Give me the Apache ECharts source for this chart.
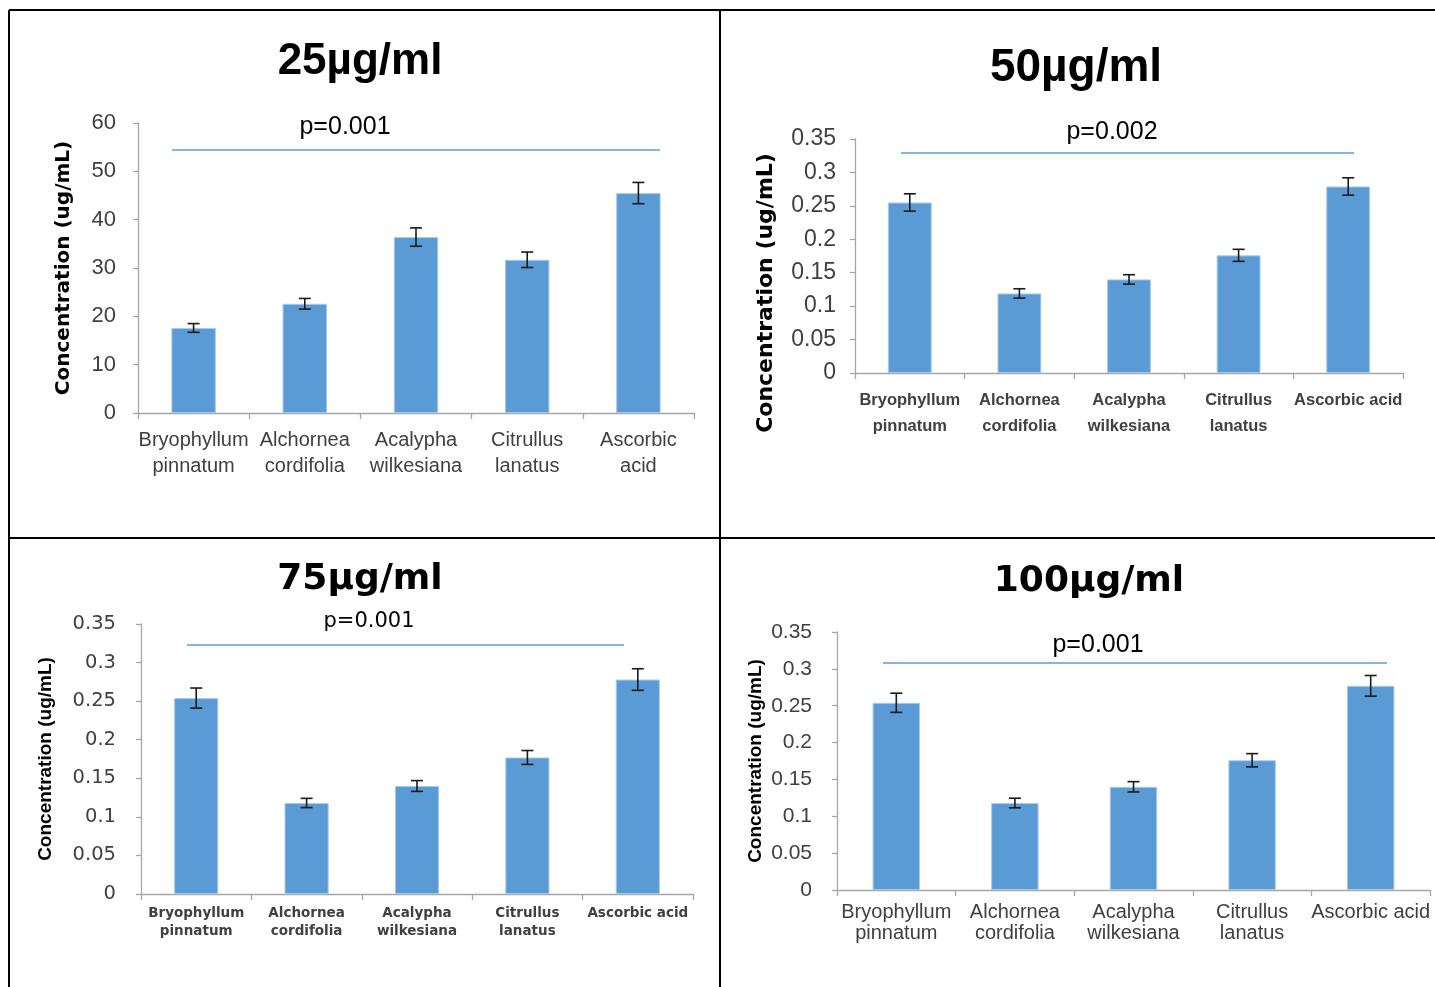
<!DOCTYPE html>
<html>
<head>
<meta charset="utf-8">
<script src="https://cdn.jsdelivr.net/npm/echarts@6/dist/echarts.min.js"></script>
<style>
html,body{margin:0;padding:0;background:#fff;}
#c{width:1435px;height:987px;}
</style>
</head>
<body>
<div id="c"></div>
<script>
// ---- data ----
const categories = ["Bryophyllum pinnatum", "Alchornea cordifolia", "Acalypha wilkesiana", "Citrullus lanatus", "Ascorbic acid"];
const labels25 = ["Bryophyllum\npinnatum", "Alchornea\ncordifolia", "Acalypha\nwilkesiana", "Citrullus\nlanatus", "Ascorbic\nacid"];
const labelsOther = ["Bryophyllum\npinnatum", "Alchornea\ncordifolia", "Acalypha\nwilkesiana", "Citrullus\nlanatus", "Ascorbic acid"];

const panelTitles = ["25µg/ml", "50µg/ml", "75µg/ml", "100µg/ml"];
const pValues = ["p=0.001", "p=0.002", "p=0.001", "p=0.001"];
const yAxisTitle = "Concentration (ug/mL)";

const values25 = [17.6, 22.6, 36.4, 31.7, 45.5];
const errors25 = [0.9, 1.1, 1.9, 1.6, 2.2];
const values50 = [0.255, 0.119, 0.140, 0.176, 0.279];
const errors50 = [0.013, 0.007, 0.007, 0.009, 0.013];
const values75 = [0.254, 0.118, 0.140, 0.177, 0.278];
const errors75 = [0.013, 0.006, 0.007, 0.009, 0.014];
const values100 = [0.254, 0.118, 0.140, 0.176, 0.277];
const errors100 = [0.013, 0.0065, 0.007, 0.009, 0.014];

const yMax25 = 60, yStep25 = 10;
const yMaxSmall = 0.35, yStepSmall = 0.05;

// ---- styling / layout ----
const BAR = '#5B9BD5';
const AXIS = '#A6A6A6';
const TXT = '#404040';

const panels = [
  { grid:{left:138, top:123, width:556, height:290}, labels:labels25, vals:values25, errs:errors25, max:yMax25, step:yStep25,
    tickFont:{fontFamily:'Liberation Sans', fontSize:22}, yMargin:22,
    catFont:{fontFamily:'Liberation Sans', fontSize:20, lineHeight:26}, xMargin:14 },
  { grid:{left:855, top:139, width:548, height:234}, labels:labelsOther, vals:values50, errs:errors50, max:yMaxSmall, step:yStepSmall,
    tickFont:{fontFamily:'Liberation Sans', fontSize:23}, yMargin:19,
    catFont:{fontFamily:'Liberation Sans', fontWeight:'bold', fontSize:16.5, lineHeight:26}, xMargin:14 },
  { grid:{left:141, top:624, width:552, height:270}, labels:labelsOther, vals:values75, errs:errors75, max:yMaxSmall, step:yStepSmall,
    tickFont:{fontFamily:'DejaVu Sans', fontSize:19.5}, yMargin:25,
    catFont:{fontFamily:'DejaVu Sans', fontWeight:'bold', fontSize:13.5, lineHeight:18}, xMargin:10 },
  { grid:{left:837, top:632, width:593, height:258}, labels:labelsOther, vals:values100, errs:errors100, max:yMaxSmall, step:yStepSmall,
    tickFont:{fontFamily:'Liberation Sans', fontSize:21}, yMargin:25,
    catFont:{fontFamily:'Liberation Sans', fontSize:20, lineHeight:21}, xMargin:12 }
];

const grids = [], xAxes = [], yAxes = [], series = [];
panels.forEach((p, k) => {
  grids.push(Object.assign({containLabel:false}, p.grid));
  xAxes.push({
    type:'category', gridIndex:k, data:p.labels,
    axisLine:{lineStyle:{color:AXIS, width:1.3}},
    axisTick:{show:true, length:6, lineStyle:{color:AXIS, width:1.3}},
    axisLabel:Object.assign({color:TXT, margin:p.xMargin, interval:0}, p.catFont),
    splitLine:{show:false}
  });
  yAxes.push({
    type:'value', gridIndex:k, min:0, max:p.max, interval:p.step,
    axisLine:{show:true, lineStyle:{color:AXIS, width:1.3}},
    axisTick:{show:true, length:5, lineStyle:{color:AXIS, width:1.3}},
    axisLabel:Object.assign({color:TXT, margin:p.yMargin}, p.tickFont),
    splitLine:{show:false}
  });
  series.push({
    type:'bar', xAxisIndex:k, yAxisIndex:k, data:p.vals, barWidth:'40%',
    itemStyle:{color:BAR, borderColor:'#A9CBEA', borderWidth:1},
    silent:true, animation:false
  });
  series.push({
    type:'custom', xAxisIndex:k, yAxisIndex:k,
    data:p.vals.map((v, i) => [i, v, p.errs[i]]),
    encode:{x:0, y:1},
    renderItem:function(params, api){
      const i = api.value(0), v = api.value(1), e = api.value(2);
      const t = api.coord([i, v + e]);
      const b = api.coord([i, v - e]);
      const hw = 6;
      const st = {stroke:'#1a1a1a', lineWidth:1.6};
      return {type:'group', children:[
        {type:'line', shape:{x1:t[0], y1:t[1], x2:b[0], y2:b[1]}, style:st},
        {type:'line', shape:{x1:t[0]-hw, y1:t[1], x2:t[0]+hw, y2:t[1]}, style:st},
        {type:'line', shape:{x1:b[0]-hw, y1:b[1], x2:b[0]+hw, y2:b[1]}, style:st}
      ]};
    },
    z:5, silent:true, animation:false
  });
});

// annotations: titles, p-values, p-lines, y-axis titles, frame
function txt(x, y, s, font, opts){
  return Object.assign({type:'text', x:x, y:y, z:10, silent:true,
    style:{text:s, font:font, fill:'#000', textAlign:'center', textVerticalAlign:'middle', align:'center', verticalAlign:'middle'}}, opts||{});
}
function ln(x1, y1, x2, y2, color, w){
  return {type:'line', z:10, silent:true, shape:{x1:x1, y1:y1, x2:x2, y2:y2}, style:{stroke:color, lineWidth:w}};
}
const graphic = [
  // frame
  ln(9, 10, 1435, 10, '#000', 2),
  ln(9, 10, 9, 987, '#000', 2),
  ln(720, 10, 720, 987, '#000', 2),
  ln(9, 538, 1435, 538, '#000', 2),
  // titles
  txt(360, 62, panelTitles[0], 'bold 44px "Liberation Sans"'),
  txt(1076, 68, panelTitles[1], 'bold 46px "Liberation Sans"'),
  txt(360, 580, panelTitles[2], 'bold 36px "DejaVu Sans"'),
  txt(1089, 582, panelTitles[3], 'bold 36px "DejaVu Sans"'),
  // p values
  txt(345, 127, pValues[0], '25px "Liberation Sans"'),
  txt(1112, 132, pValues[1], '25px "Liberation Sans"'),
  txt(369, 622, pValues[2], '21px "DejaVu Sans"'),
  txt(1098, 645, pValues[3], '25px "Liberation Sans"'),
  ln(172, 150, 660, 150, BAR, 1.3),
  ln(901, 153, 1354, 153, BAR, 1.3),
  ln(187, 645, 624, 645, BAR, 1.3),
  ln(883, 663, 1387, 663, BAR, 1.3),
  // y axis titles
  txt(64, 268, yAxisTitle, 'bold 20px "DejaVu Sans"', {rotation:Math.PI/2}),
  txt(766, 293, yAxisTitle, 'bold 22px "DejaVu Sans"', {rotation:Math.PI/2}),
  txt(46, 759, yAxisTitle, 'bold 19px "Liberation Sans"', {rotation:Math.PI/2}),
  txt(756, 761, yAxisTitle, 'bold 19px "Liberation Sans"', {rotation:Math.PI/2})
];

const chart = echarts.init(document.getElementById('c'), null, {renderer:'canvas'});
chart.setOption({
  backgroundColor:'#fff',
  animation:false,
  grid:grids, xAxis:xAxes, yAxis:yAxes, series:series,
  graphic:graphic
});
</script>
</body>
</html>
